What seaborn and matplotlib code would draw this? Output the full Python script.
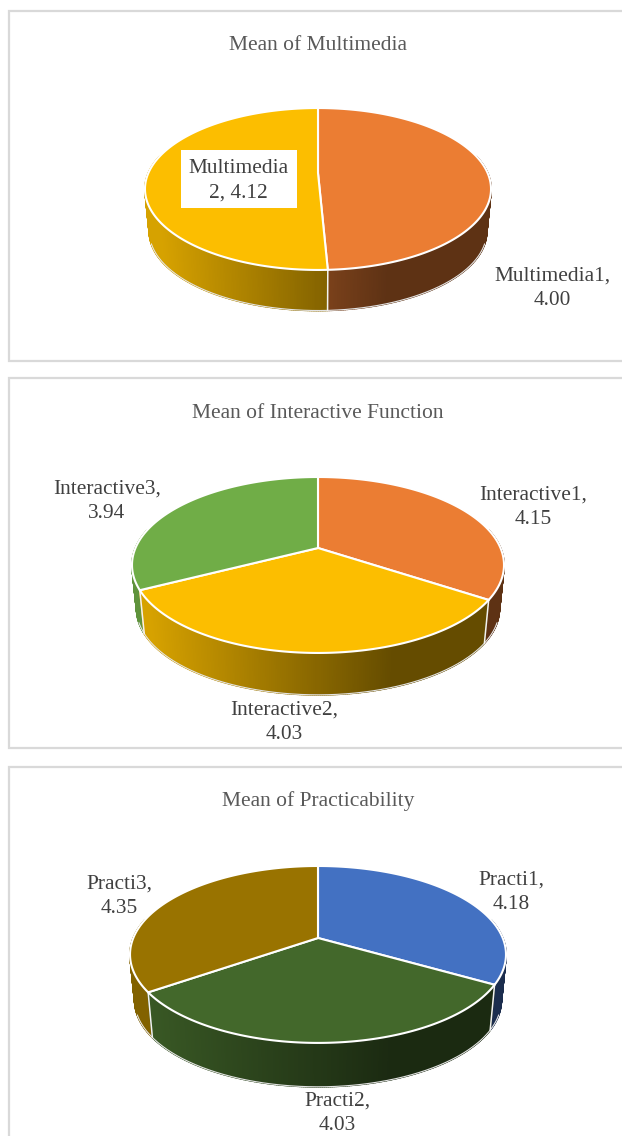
import numpy as np
import matplotlib
matplotlib.use("Agg")
import matplotlib.pyplot as plt
from matplotlib.collections import PolyCollection
from matplotlib.patches import Polygon, Rectangle
import seaborn as sns

# ---- data ----
multimedia_names = ["Multimedia1", "Multimedia2"]
multimedia_values = [4.00, 4.12]
interactive_names = ["Interactive1", "Interactive2", "Interactive3"]
interactive_values = [4.15, 4.03, 3.94]
practi_names = ["Practi1", "Practi2", "Practi3"]
practi_values = [4.18, 4.03, 4.35]
titles = ["Mean of Multimedia", "Mean of Interactive Function", "Mean of Practicability"]

ORANGE, YELLOW, GREEN = "#EB7D33", "#FCBE00", "#70AD47"
BLUE, DKGREEN, BROWN = "#4371C2", "#43682B", "#997300"

sns.set_theme(style="white")
plt.rcParams["font.family"] = ["Liberation Serif", "DejaVu Sans"]

fig = plt.figure(figsize=(6.22, 11.36), dpi=100)
ax = fig.add_axes([0, 0, 1, 1])
ax.set_xlim(0, 622)
ax.set_ylim(1136, 0)
ax.axis("off")

BORDER = "#D9D9D9"
for top, bottom in [(11, 361), (378, 748), (767, 1150)]:
    ax.add_patch(Rectangle((9, top), 640, bottom - top, fc="white", ec=BORDER, lw=1.6, zorder=0))


def project(theta, cx, cy, B, A, k, s=1.0, d=0.0):
    u, v = np.sin(theta), np.cos(theta)
    w = 1 + k * v
    return cx + s * B * u / w, cy - s * A * v / w + d


def shade(color, t):
    f = np.interp(t, [0.05, 0.7, 1.0], [0.85, 0.40, 0.40])
    return tuple(np.array(matplotlib.colors.to_rgb(color)) * f)


def pie3d(values, colors, cx, cy, B, A, k, d, s=0.975):
    vals = np.asarray(values, float)
    edges = np.concatenate([[0], np.cumsum(vals)]) / vals.sum() * 2 * np.pi
    rx = B / np.sqrt(1 - k * k)
    # side wall (front part only), back to front, shaded by horizontal position
    quads, cols, order = [], [], []
    for i, c in enumerate(colors):
        n = max(int((edges[i + 1] - edges[i]) / np.radians(0.5)), 2)
        t = np.linspace(edges[i], edges[i + 1], n + 1)
        for a, b in zip(t[:-1], t[1:]):
            if np.cos((a + b) / 2) > 0.22:
                continue
            x1, y1 = project(a, cx, cy, B, A, k)
            x2, y2 = project(b, cx, cy, B, A, k)
            x3, y3 = project(b, cx, cy, B, A, k, s, d)
            x4, y4 = project(a, cx, cy, B, A, k, s, d)
            quads.append([(x1, y1), (x2, y2), (x3, y3), (x4, y4)])
            cols.append(shade(c, ((x1 + x2) / 2 - (cx - rx)) / (2 * rx)))
            order.append(np.cos((a + b) / 2))
    idx = np.argsort(order)[::-1]
    ax.add_collection(PolyCollection([quads[i] for i in idx], facecolors=[cols[i] for i in idx],
                                     edgecolors=[cols[i] for i in idx], linewidths=1.2, zorder=2))
    # light outline under the front of the wall
    bx, by = project(np.radians(np.linspace(110, 250, 300)), cx, cy, B, A, k, s, d)
    ax.plot(bx, by, color="#E4E4E4", lw=0.8, zorder=3)
    # white dividers on the wall
    for e in edges[:-1]:
        if np.cos(e) < 0:
            x1, y1 = project(e, cx, cy, B, A, k)
            x2, y2 = project(e, cx, cy, B, A, k, s, d)
            ax.plot([x1, x2], [y1, y2], color="#F2F2F2", lw=1.1, zorder=3)
    # top surface
    for i, c in enumerate(colors):
        t = np.linspace(edges[i], edges[i + 1], 300)
        x, y = project(t, cx, cy, B, A, k)
        pts = np.vstack([[cx, cy], np.column_stack([x, y])])
        ax.add_patch(Polygon(pts, closed=True, fc=c, ec="white", lw=1.5, joinstyle="round", zorder=4))


pie3d(multimedia_values, [ORANGE, YELLOW], 318, 173, 169.6, 77.8, 0.1975, 43)
pie3d(interactive_values, [ORANGE, YELLOW, GREEN], 318, 548, 182.5, 84.7, 0.193, 44.5)
pie3d(practi_values, [BLUE, DKGREEN, BROWN], 318, 938, 184.7, 85.4, 0.186, 46.5)

TITLE = "#595959"
LABEL = "#404040"
for title, y in zip(titles, [45, 413, 801]):
    ax.text(318, y, title, ha="center", va="center", fontsize=15.5, color=TITLE, zorder=6)

ax.add_patch(Rectangle((181, 150), 116, 58, fc="white", ec="none", zorder=5))


def label(x, y, text):
    ax.text(x, y, text, ha="center", va="center", fontsize=15.4, color=LABEL, linespacing=1.38, zorder=6)


label(238, 181, "Multimedia\n2, %.2f" % multimedia_values[1])
label(552, 288, "%s,\n%.2f" % (multimedia_names[0], multimedia_values[0]))
label(533, 507, "%s,\n%.2f" % (interactive_names[0], interactive_values[0]))
label(284, 722, "%s,\n%.2f" % (interactive_names[1], interactive_values[1]))
label(107, 501, "%s,\n%.2f" % (interactive_names[2], interactive_values[2]))
label(511, 892, "%s,\n%.2f" % (practi_names[0], practi_values[0]))
label(337, 1113, "%s,\n%.2f" % (practi_names[1], practi_values[1]))
label(119, 896, "%s,\n%.2f" % (practi_names[2], practi_values[2]))

fig.savefig("out.png", dpi=100)
